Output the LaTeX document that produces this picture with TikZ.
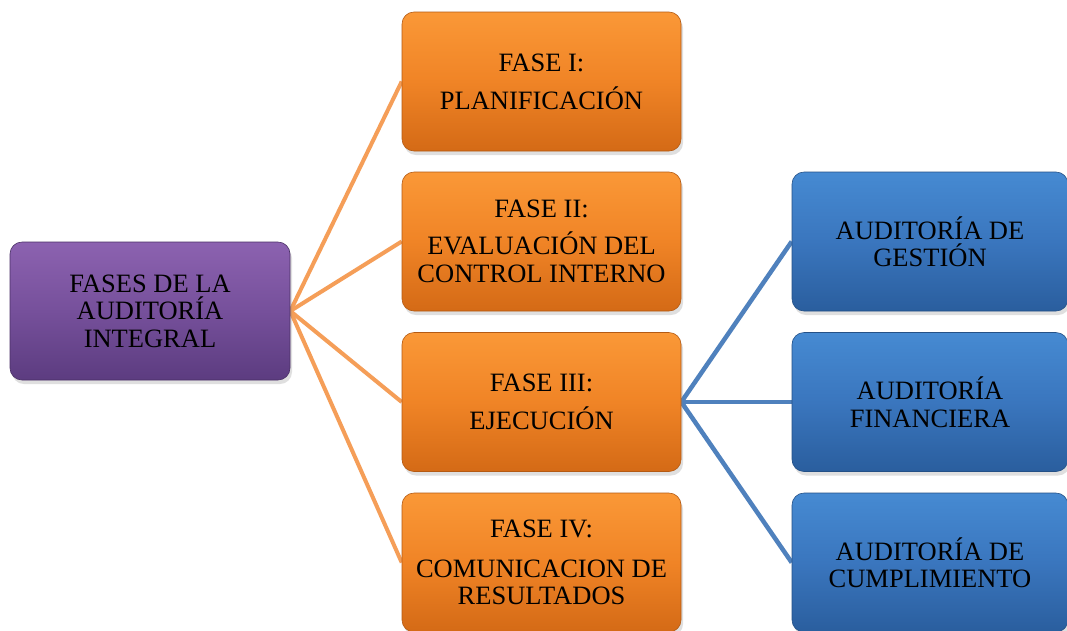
\documentclass[tikz,border=0pt]{standalone}
\usepackage{fontspec}
\setmainfont{Liberation Serif}
\usetikzlibrary{shadows,backgrounds}
\definecolor{pTop}{RGB}{140,98,176}
\definecolor{pMid}{RGB}{118,80,155}
\definecolor{pBot}{RGB}{92,60,128}
\definecolor{oTop}{RGB}{250,152,55}
\definecolor{oMid}{RGB}{240,132,38}
\definecolor{oBot}{RGB}{212,106,22}
\definecolor{bTop}{RGB}{70,138,210}
\definecolor{bMid}{RGB}{58,118,190}
\definecolor{bBot}{RGB}{42,94,158}
\definecolor{oLine}{RGB}{245,158,88}
\definecolor{bLine}{RGB}{79,129,189}
\tikzset{
  gbox/.style={rounded corners=12pt, minimum width=279pt, minimum height=139pt,
    inner sep=0pt, align=center, font=\fontsize{26.5}{27.5}\selectfont,
    drop shadow={opacity=0.25, shadow xshift=2pt, shadow yshift=-4pt}},
  pbox/.style={gbox, draw=pBot!80!black, line width=0.6pt,
    top color=pTop, bottom color=pBot, middle color=pMid},
  obox/.style={gbox, draw=oBot!85!black, line width=0.6pt,
    top color=oTop, bottom color=oBot, middle color=oMid},
  bbox/.style={gbox, draw=bBot!85!black, line width=0.6pt,
    top color=bTop, bottom color=bBot, middle color=bMid},
  oconn/.style={draw=oLine, line width=4pt},
  bconn/.style={draw=bLine, line width=4.5pt},
}
\begin{document}
\begin{tikzpicture}[x=1pt,y=-1pt]
\useasboundingbox (0,0) rectangle (1067,630);
\node[pbox, minimum width=280pt, minimum height=138pt] (root) at (150,311) {FASES DE LA\\AUDITORÍA\\INTEGRAL};
\node[obox] (f1) at (541.5,81.5) {FASE I:\\[10.5pt]PLANIFICACIÓN};
\node[obox] (f2) at (541.5,241.5) {FASE II:\\[9.5pt]EVALUACIÓN DEL\\CONTROL INTERNO};
\node[obox] (f3) at (541.5,402) {FASE III:\\[10.5pt]EJECUCIÓN};
\node[obox] (f4) at (541.5,562.5) {FASE IV:\\[12pt]COMUNICACION DE\\RESULTADOS};
\node[bbox, minimum width=276pt] (a1) at (930,241.5) {AUDITORÍA DE\\GESTIÓN};
\node[bbox, minimum width=276pt] (a2) at (930,402) {AUDITORÍA\\FINANCIERA};
\node[bbox, minimum width=276pt] (a3) at (930,562.5) {AUDITORÍA DE\\CUMPLIMIENTO};
\begin{scope}[on background layer]
\fill[white] (0,0) rectangle (1067,630);
\draw[oconn] (root.east) -- (f1.west);
\draw[oconn] (root.east) -- (f2.west);
\draw[oconn] (root.east) -- (f3.west);
\draw[oconn] (root.east) -- (f4.west);
\draw[bconn] (f3.east) -- (a1.west);
\draw[bconn] (f3.east) -- (a2.west);
\draw[bconn] (f3.east) -- (a3.west);
\end{scope}
\end{tikzpicture}
\end{document}
